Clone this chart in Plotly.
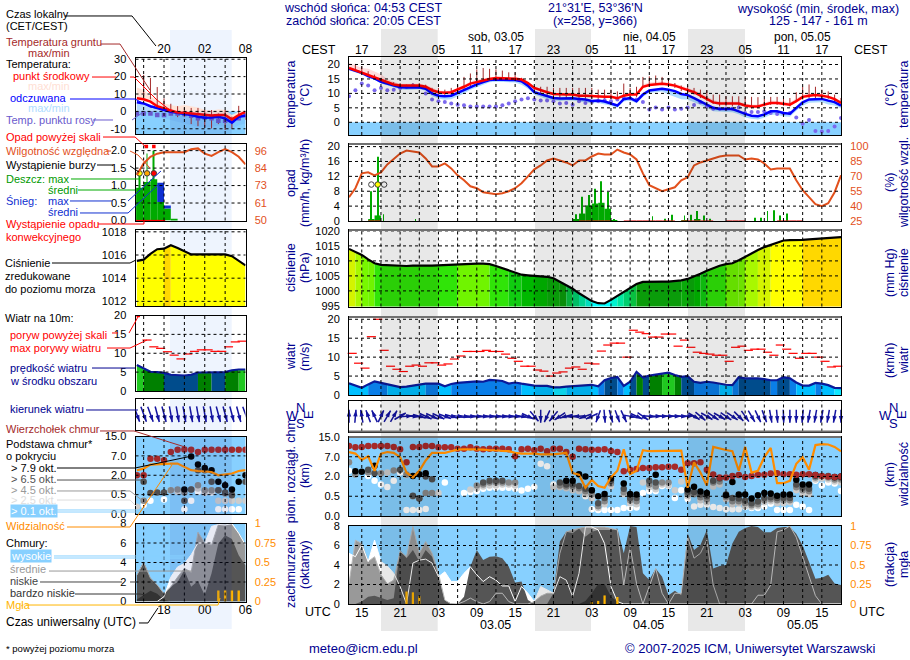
import math
import plotly.graph_objects as go

W, H = 910, 660

# === Time axes (hours since 00 UTC 02.05) ===
hours = list(range(13, 91))
hours_s = list(range(14, 31))

# === Temperature (C) ===
t_mid = [18.8,18,17.3,16.5,15.7,14.8,13.9,13.1,12.7,12.7,12.7,12.7,12.3,11.1,10.4,10.2,10.4,11.3,12.3,13.4,
         14,14.6,15,15.3,15.3,15.3,15.1,14.8,13.6,11.9,11.1,10.4,9.8,9.6,9.6,9.6,9.2,9.2,9,8.9,
         8.8,8.8,8.3,9.2,9.6,9.6,12.3,12.9,13,13.3,13.1,12.7,11.9,11.1,10.4,9.2,8,6.9,6.5,6.5,
         6.6,6.5,5.8,5.5,5.5,6,6.7,6.7,6.5,6.1,7.3,8.8,9.2,9.4,9.2,8.8,8,6.7]
t_max = [20.6,19.6,18.8,18.5,17.6,16.6,15,14,13.3,13.2,13.3,13.4,13,12,11,10.8,11,11.9,13,14,
         14.8,15.3,15.6,15.8,15.8,15.7,15.6,15.2,14.1,12.6,11.6,10.9,10.3,10,10,10,9.7,9.6,9.4,9.3,
         9.3,9.3,8.8,9.8,10.1,10.4,13.2,13.8,14,14.1,13.8,13.4,12.8,11.9,11.2,10.2,9,7.8,7.2,7.2,
         7.2,7.2,6.5,6.2,6.2,6.7,7.6,7.5,7.2,6.9,8.2,9.5,10,10,9.8,9.4,8.6,7.4]
t_feel = [18.6,17.9,17.1,16,15.2,14,13.4,12.7,12.1,12,12.1,12.1,11.6,10,9.2,9,9.2,10.2,11.1,12.3,
          13.1,13.9,14.6,14.8,14.8,14.8,14.6,14.2,12.7,10.4,9.8,9,8.4,8.2,8.3,8.3,8.1,7.9,7.4,7.5,
          7.2,6.5,5.8,8,8.4,7.3,9.6,11,11.3,11.6,11.3,10.8,9.8,9.4,8.4,7.3,6,5,4.6,4.6,
          4.6,3.8,2.9,2.3,2.1,2.7,3.8,3.8,3.2,3,5,6.9,7.9,8.1,8.1,7.5,7,5.8]
t_feel_min = [18,17.3,16.5,15.4,14.7,13.4,12.8,12.1,11.4,11.2,11.3,11.4,10.9,9,8.2,7.8,8,9,10,11.3,
              12.2,13,13.9,14,14,14,13.8,13,11.6,9.6,8.8,8,7.6,7.4,7.5,7.5,7.2,7,6.6,6.7,
              6.3,5.7,5,7.2,7.5,6.6,8.8,10.2,10.4,10.7,9.6,8.8,8,7.9,7,5.9,5,3.8,3.6,3.6,
              3.5,2.8,1.7,1.2,1,1.6,2.6,2.6,2,1.9,4,5.7,6.8,6.9,6.9,6.2,5.8,4.8]
t_dew = [9,11.1,13.4,12.7,11.1,11.9,11.1,11.3,11.9,12.3,12.7,12.3,10,7.9,7.3,7,6.5,6.1,5.9,5.5,
         5.5,5.5,5.5,5.5,5.9,6.5,7.3,7.9,8.3,7.9,7.5,7.5,7.3,6.5,6.7,6.1,7.3,6.7,7,7.3,
         7.6,7.3,7.9,8.4,8.2,7.9,7,4.4,5.1,4.4,5.1,4.4,4.7,5.1,6,6.9,5.5,4.7,4.7,4.7,
         4.7,5.1,3.2,3.6,3.6,3.8,3.2,2.9,3,3.2,1.7,-0.5,0.8,-3,-3.2,-3,-1.5,1.5]
ground_h = list(range(14, 91))
ground_max = [20.2,19.4,17.7,16.5,15.4,14.2,13.9,13.6,13,13.6,13.6,13,11.9,11.9,11.3,11.9,13,15.7,16.9,18.3,
              18.8,18.5,18.3,17.9,17.3,17.3,15.4,13.9,12.5,12.3,12.3,11.9,11.9,11.9,11.9,11.9,11.9,11.9,11.3,
              11.3,11.3,10.7,13.4,11.9,12.3,15.7,15.9,16.2,15.7,14.8,13.6,12.7,12.7,11.9,11.3,11.1,9.6,9.6,9,
              9,9,8.8,8.8,8.7,8.1,8.8,8.8,8.7,8.4,10.4,12.3,13.1,12.3,11.3,10.7,9.6,8.4]
ground_min = [18,16.5,15.7,14.8,14.2,13.4,12.7,11.6,11.9,11.9,11.9,11.3,9.6,9,8.8,9,10,11.3,12.3,13.6,
              14.2,14.8,14.8,14.8,14.8,14.8,13.9,12.7,10.2,9.6,9,9,8.4,8.4,8.4,7.9,8.1,8.2,8.1,
              7.9,7.9,7.9,9.2,8.9,8.8,11.9,12.3,12.9,12.9,12.6,11.9,10.8,10.2,9.6,8.4,7.3,6.4,5.5,5.5,
              5.5,5.5,5.1,4.8,4.8,5.5,6,6,5.7,5.5,7,7.9,8.4,8.4,8.4,8.1,7.3,6.2]

t_mid_s = [7.5,7,5.6,3,1.7,0.4,-0.6,-0.8,-1.2,-1.5,-2.1,-2.3,-2.1,-2.1,-4.6,-2.1,-0.2]
t_max_s = [13.8,12.3,8.5,6.5,4.6,3.7,3,3.7,3,2.3,0.8,0.4,1.2,0.8,-2.1,-0.2,0.8]
t_feel_s = [5.2,4.6,3,2.1,0.8,-0.2,-0.8,-1.2,-2.1,-3.1,-3.7,-3.5,-3.1,-4,-6.5,-3.1,-2.5]
t_feel_min_s = [-1,-1,-2,-3,-4,-5,-6,-7,-8,-9,-9,-9,-8,-9,-10,-8,-7]
t_dew_s = [-1.2,-1.2,-1.2,-2.1,-2.1,-1.2,-1.2,-1.5,-2.5,-4,-3.5,-4,-5.4,-5.4,-5.4,-4,-2.1]
ground_h_s = list(range(15, 31))
ground_max_s = [21,19.2,14,7.5,4.4,3,2,2,2,0.8,0.8,-1.2,0.8,-3,3.2,-1.2]
ground_min_s = [8.5,7,3,1,-2,-3.3,-3.3,-7.3,-8.5,-9.3,-9.8,-7.3,-10.7,-9.9,-4.9,-4.9]

# === Precipitation (mm/h) and humidity (%) ===
rain_h = [16.5,17.5,48.5,49.5,50.5,51.5,52.5,53.5,54.5,65.5,67.5]
rain = [0.4,1.5,0.4,2,4.2,4.7,4.9,3.3,0.2,0.2,0.5]
rain_max_h = [16.5,17.5,18.4,23.4,48.5,49.5,50.5,51.5,52.5,53.5,54.5,60.5,62.5,63.5,65.5,66.5,67.5,68.5,69.5,
              76.5,77.5,78.5,79.5,80.5,81.5]
rain_max = [8,17.3,1.8,0.4,1.8,6.5,7,8.7,10.7,7.8,0.4,1.3,0.6,1.7,1.5,1.7,2.7,1.5,0.6,0.9,0.9,2.7,2.9,1.5,2]
conv_h = [16.5,17.5,49.5,50.5,51.5,52.5,53.5,56.5,57.5,58.5,59.5,60.5,61.5,62.5,63.5,65.5,66.5,67.5,68.5,69.5,
          72.5,73.5,74.5,80.5,81.5,82.5,83.5]
storm_h = [16.5,17.5,18.5]
humidity = [49,58,73,74,71,74,82,88,93,96,95,94,88,80,80,83,78,71,66,60,
            58,54,53,52,53,55,58,63,70,77,81,86,88,86,84,81,86,86,90,93,
            92,92,97,94,92,87,73,61,58,55,57,59,66,69,81,84,86,88,90,91,
            91,91,87,88,87,83,77,78,78,78,66,56,49,42,40,43,54,71]

rain_s_h = [13.5,14.5,15.5,16.5,17.5,18.5,19.5]
rain_s = [0.94,0.94,1.1,1.18,0.53,0.34,0.05]
snow_s_h = [17.5,18.5]
snow_s = [0.55,0.09]
rain_max_s_h = [14.4,15.5,16.5]
rain_max_s = [1.35,1.92,2.0]
storm_s_h = [14.4,15.5,16.5]
above_s_h = [15.4,16.5]
conv_s_h = [14.5,15.5,16.5,17.5]
humidity_s = [80,87.6,92,94,95,95,95,95,97,97.5,94,92.5,95,97,95,92,87]

# === Pressure (hPa) ===
pressure = [1014,1013,1012,1010.5,1009.2,1008.7,1008.6,1008.4,1008.2,1008.3,1008.4,1008.5,1008.4,1008.4,1008.5,
            1008.6,1008.8,1009,1009.1,1009.1,1009.1,1009.1,1008.9,1008.3,1007.6,1006.9,1006,1005.4,1005.2,1005,
            1004.9,1004.7,1004.2,1003,1002,1000.7,999.2,997.8,996.6,995.9,995.8,997,998.3,999.7,1001.1,1002.3,
            1003,1003.1,1003.1,1003.1,1003.1,1003.2,1003.5,1004,1004.8,1005.7,1006.7,1007.6,1008.4,1008.9,1009.2,
            1010.2,1011.4,1012.6,1013.6,1014.6,1015.3,1016.2,1016.8,1016.9,1016.9,1017,1017.2,1017.3,1017.5,1017.6,
            1017.7,1017.9]
pressure_s = [1015.5,1015.6,1016.1,1016.5,1016.55,1016.85,1016.6,1016.3,1016.05,1016.05,1016.05,1016.05,1016.05,
              1016.05,1015.9,1015.5,1015.1]

# === Wind (m/s, direction the arrow points to in degrees) ===
wind = [3.1,2.5,1.9,2.8,3.6,3.2,2.9,2.6,2.1,2.2,2.4,2.8,3,3,3,2.3,2.9,3.2,3.3,3.6,3.6,3.5,4,3.9,3.7,3,3.3,3,2.7,2.5,
        2.4,2.4,2,2,2.2,2.3,2.3,2.4,2.7,2.3,3.9,4.5,4.8,2.4,3.5,6.1,4.6,5.1,5.3,5.6,5.9,5.3,4.8,5,3.5,3.2,3.5,3.3,
        2.9,2.7,2.6,4.7,4.4,4.4,4.4,4.2,3.9,3.9,4.7,4.4,3.3,2.5,2.5,3.2,3,2.6,1.9,1.8]
gust_h = [h + 0.5 for h in range(13, 90)]
gust = [11,8.4,7.1,15.4,20,11.8,7.6,6.8,6.2,7.6,7.9,7.6,8.5,8.5,7.9,8.2,9.5,10.3,11.5,11.5,11.5,11.8,11.5,11.5,
        10.8,9.7,8.9,7.6,7.6,6.6,6.3,5,5.8,6.1,7.1,7.4,6.8,8.4,8.2,
        11.6,13.2,13.7,13.7,10,17.1,16.6,16.2,15.3,15.3,16.1,16.1,12.9,14.5,12.6,11.3,11,10.8,10.5,10.5,8.9,12.6,
        12.9,11.8,12.1,12.1,11.3,10.5,13.2,12.1,11,9.7,11,11,10,8.9,7.4,7.6]
wind_dir = [0,5,350,340,335,25,30,30,60,85,95,105,115,115,115,110,105,100,100,95,95,95,95,95,95,95,95,100,115,140,
            180,205,220,235,255,265,265,250,245,200,175,165,160,155,100,115,125,95,90,90,90,90,90,85,120,130,120,125,
            120,125,125,135,145,150,155,160,170,175,178,180,180,185,190,190,190,190,190,180]
wind_s = [6.9,5.9,5.1,5,4.8,4.3,4.1,4.1,4.3,4.9,4.9,4.9,4.9,5,5.5,5.7,5.7]
gust_s_h = [15.5,16.5,17.5,18.5,19.5,20.5,21.5,22.5,23.5,24.5,25.5,26.5,27.5,28.5,29.5]
gust_s = [13.5,11.7,11.3,10.4,9.5,8.5,9.8,10.5,10.9,10.9,10.5,10.5,11.7,13,13.2]
gust_over_s_h = [14.2]
gust_over_s = [20]
wind_dir_s = [160,160,160,165,165,170,170,170,170,170,170,170,165,165,165,165,160]

# === Cloud tops/bases, position on the km scale: 0=0, 1=0.5, 2=2, 3=7, 4=15 km ===
km_ticks = ['0.0', '0.5', '2.0', '7.0', '15.0']
vis_ticks = ['0', '1', '5', '20', '100']
cloud_top = [3.55,3.48,3.5,3.55,3.55,3.55,3.55,3.5,3.38,2.72,3.5,3.5,3.55,3.55,3.48,3.48,3.48,3.41,3.41,3.48,
             3.41,3.38,3.41,3.41,3.41,3.38,3.03,3.38,3.41,3.33,3.41,3.28,3.41,3.41,3.24,3.0,3.41,3.38,3.36,3.36,
             3.38,3.29,3.24,2.26,2.34,2.38,2.43,2.43,2.47,2.47,2.5,2.5,2.34,2.67,2.67,2.72,2.34,2.1,1.95,1.95,
             2.03,2.07,1.97,2.03,2.09,2.09,2.15,2.17,2.12,2.12,2.09,2.12,2.12,2.07,2.03,2,1.98,2]
visibility = [3.24,3.16,2.84,3.02,2.29,3.16,3.24,3.2,2.98,2.2,1.95,2.29,2.81,3.2,3.2,3.2,3.28,3.36,3.38,3.38,
              3.36,3.36,3.33,3.33,3.29,3.28,3.2,3.16,3.16,3.16,3.12,3.12,3.12,3.16,3.2,2.17,2.09,1.43,1.83,1.52,
              1.43,1.95,2.29,3.38,2.12,2.29,3.33,3.28,3.28,3.31,3.31,3.31,3.31,1.43,2.72,2.2,1.55,3.5,3.41,3.34,
              3.28,2.29,3.5,2.2,2.29,2.98,3.45,1.66,1.66,1.78,2.64,2.98,2.34,3.59,3.64,3.62,3.5,3.28]
base79_h = [14,15,17,23,24,25,47,48,49,50,51,52,53,54,56,57,58,61,66,67,68,69,72,73,74,75,76,77,78,79,80,81,82,83,84,85,86,89,90]
base79 = [2.26,2.24,2.55,2.03,2.12,2.17,1.78,1.78,2.12,2.0,1.31,1.0,1.12,1.9,1.64,1.12,1.09,2.09,1.34,1.48,1.24,1.17,
          1.05,1.72,1.09,1.09,0.88,1.05,1.17,1.14,1.03,1.09,1.09,1.83,1.6,1.6,2.07,1.98,2.0]
base65_h = [16,17,21,23,24,25,26,34,35,36,37,46,47,48,49,50,51,52,53,54,56,57,58,60,61,66,67,68,69,70,71,72,73,74,75,
            76,77,78,79,80,81,82,83,84,85,86,88,89,90]
base65 = [2.34,2.16,2.34,1.03,0.88,2.0,1.86,1.69,1.78,1.78,1.78,1.69,1.6,1.6,1.52,1.38,1.29,0.65,0.91,1.78,1.38,0.91,
          0.91,1.78,1.69,1.21,1.21,1.09,1.0,1.78,1.9,1.09,0.91,0.88,0.79,0.65,0.74,0.91,0.95,0.91,0.91,0.91,1.6,1.43,
          1.38,2.03,2.03,1.95,1.95]
base45_h = [13,14,16,18,20,22,23,24,25,26,33,34,35,36,37,38,39,46,47,48,49,50,51,52,53,54,56,57,58,60,61,62,63,66,67,68,
            69,70,71,72,73,74,75,76,77,78,79,80,81,82,83,84,85,86,87,88,89,90]
base45 = [2.72,2.1,2.2,2.16,2.3,2.1,1.0,0.9,1.17,1.17,1.55,1.6,1.7,1.7,1.7,1.7,1.7,1.55,1.5,1.5,1.4,1.25,1.1,0.5,0.75,
          1.65,1.2,0.8,0.75,1.6,1.5,1.7,1.7,1.1,1.1,0.95,0.85,1.7,1.75,0.95,0.75,0.75,0.65,0.55,0.6,0.8,0.85,0.8,0.8,
          0.8,1.45,1.3,1.25,1.95,2.03,1.95,1.85,1.85]
base25_h = [18,19,22,27,32,33,34,35,36,37,38,39,45,46,47,48,49,50,51,52,53,54,56,57,58,59,60,61,62,63,64,65,66,68,69,70,
            71,72,73,74,75,76,77,78,79,80,81,82,83,84,85,86,87,88,89,90]
base25 = [2.16,2.2,2.07,1.17,1.34,1.4,1.5,1.55,1.55,1.6,1.6,1.55,1.45,1.45,1.4,1.3,1.25,1.1,0.9,0.4,0.6,1.5,1.1,0.65,
          0.6,1.7,1.45,1.35,1.6,1.55,1.3,1.75,1.0,0.8,0.7,1.5,1.6,0.85,0.6,0.65,0.5,0.45,0.5,0.7,0.75,0.65,0.65,0.7,
          1.3,1.15,1.1,1.85,1.9,1.85,1.75,1.7]
base01_h = [13,16,17,18,19,20,21,22,23,24,25,28,31,32,33,34,35,36,37,38,39,40,41,42,43,44,45,46,47,48,49,50,51,52,53,54,
            55,56,57,58,59,60,61,62,63,64,65,66,67,68,69,70,71,72,73,74,75,76,77,78,79,80,81,82,83,84,85,86,87,88,89,90]
base01 = [2.29,2.03,1.78,1.6,1.47,1.78,2.2,0.31,0.31,0.31,0.36,1.69,1.17,1.22,1.26,1.38,1.43,1.43,1.43,1.43,1.38,1.29,
          1.38,1.47,2.64,2.52,1.6,1.52,1.48,1.43,1.34,1.0,0.34,0.31,0.31,0.31,0.31,0.4,0.4,0.43,1.17,1.26,1.26,1.52,
          1.52,0.91,1.31,0.86,0.48,0.57,0.57,0.45,0.4,0.34,0.34,0.34,0.45,0.4,0.4,0.48,0.62,0.31,0.31,0.31,0.57,0.48,
          0.31,1.78,1.55,1.69,1.64,1.26]

cloud_top_s = [2.0,2.0,2.85,2.85,2.77,3.2,3.32,3.33,3.32,3.2,3.32,3.32,3.32,3.32,3.32,3.32,3.32]
visibility_s = [2.26,2.34,2.55,2.57,2.6,2.6,2.6,2.43,2.26,2.22,2.2,2.17,2.0,2.03,2.09,2.22,2.26]
base79_s_h = [21,22,23,24,25,26,27,28,29,30]
base79_s = [1.26,2.97,2.55,2.38,2.26,1.66,1.49,1.26,1.66,2.0]
base65_s_h = [15,16,17,18,21,22,23,24,25,26,27,28,30]
base65_s = [1.66,1.09,1.11,1.11,0.68,1.26,2.26,2.26,1.66,1.23,1.11,0.97,1.66]
base45_s_h = [15,19,20,21,22,23,24,25,26,27,28]
base45_s = [0.68,1.23,1.26,1.11,1.26,1.49,1.23,1.23,1.23,1.06,1.01]
base25_s_h = [14,19,20,23,24,25,26,27,28,29,30]
base25_s = [0.38,1.23,1.15,1.32,1.11,1.15,0.68,0.68,0.68,0.68,0.68]
base01_s_h = [15,16,18,21,22,23,24,25,26,27,28,29]
base01_s = [0.46,0.68,0.75,0.24,0.68,1.15,1.11,1.11,0.24,0.24,0.24,0.24]

# === Cloud cover (oktas), fog (fraction) ===
cl_high = [5.2,4.85,6.05,4.35,6.55,4.35,3.9,3.15,1.8,0,4.2,4.5,4.6,4.2,2.8,3.3,2.3,2.3,3.15,3.8,3,2.3,2.8,2.45,1.85,1.85,
           0.25,1.8,1.1,0.25,1.8,1.45,1.1,2.8,2.45,0.75,3.15,7.9,7.9,7.6,6.2,1.8,0.25,
           0,0,0,0,0,0,0,0,0,0,0,0,0,0,0,0,0,0,0,0,0,0,0,0,0,0,0,0,0,0,0,0,0,0,0]
cl_mid = [2.1,6.55,6.2,4.35,4.85,3,2.05,2.45,5.4,4.85,7.95,5.2,6.4,5.2,3.15,0.4,0,0,0.25,0.6,0.25,0,0.25,1.1,1.1,0.25,0,0,0,
          0.25,0.8,1.1,1.1,5.2,7.4,7.6,7.75,7.9,7.9,7.9,7.9,7.75,7.6,1.95,5.9,2.1,0,1.8,3.65,1.1,0,1.1,1.1,6.85,4.7,5.2,6.55,
          1.95,0,0,0,0,0,0,0.9,0.9,1.95,7.4,7.6,8,6.85,4.85,2.8,0.85,0,0,0,0]
cl_low = [0,0,0.25,0.75,0.85,0.6,0.4,0.6,5.55,4.7,5.55,4.35,5.55,4.85,2.8,0.35,0.05,0,0.75,3.85,5.55,4.5,4.85,4.9,4.7,3.85,
          2.2,2.3,0.4,0,0,0,1.1,6.4,7.4,7.25,7.75,6.9,7.4,7.6,7.6,7.6,7.75,5.2,8,7.9,3.15,2.45,3.65,2.8,0.9,1.35,0.9,7.25,
          5.55,6.05,7.6,3.65,3.9,4,6.2,7.4,7.8,8,7.9,7.35,7.35,7.8,7.9,7.9,7.2,6,4.3,2.6,2.7,3,2.1,1.95]
cl_vlow_h = [49,50,51,52,53,54,55,56]
cl_vlow = [0,0.3,1.1,2.05,2.05,0.75,0.25,0]
fog_h = [22,23,24,51,52,53,55]
fog = [0.16,0.15,0.1,0.02,0.04,0.11,0.09]

cl_high_s = [0,0,0,0,0.5,2.5,3.55,3.9,4.8,6,6,7.7,7.9,7.85,8,7,5.8]
cl_mid_s = [2.7,4,2.4,1.7,0.8,1.5,2.5,3.4,3,7.1,6,5.8,7.9,7.85,7.9,7,5.8]
cl_low_s = [2.7,4.1,2.4,1.7,0.8,1.5,2,3.2,1.5,2.1,0.65,2.9,5.95,6.8,6.4,4.75,3.7]
cl_vlow_s = [0.2,0.65,1.1,0.8,0.15,0,0,0,0,0,0,0,0,0,0,0,0]
fog_s_h = [26,27,28,29]
fog_s = [0.14,0.14,0.14,0.14]

# === Layout in pixels ===
SKY = '#87d0ff'
NAVY = '#000090'
DARKRED = '#a52a2a'
HUM = '#e2501c'
ORANGE = '#ff8c00'
FOG = '#ffb400'
FONT = 'Liberation Sans'
TICK = 11

SMALL_X, MAIN_X = (135.5, 245.5), (349, 841)
SMALL_R, MAIN_R = (13.8, 30), (13, 90)
SMALL_PPH, MAIN_PPH = 110 / 16.2, 492 / 77
SMALL_ROWS = [(57.5, 134), (144, 220.5), (229.5, 306), (315.5, 391), (398.5, 430), (436.5, 514), (523.5, 601.5)]
MAIN_ROWS = [(57, 135), (144, 221), (230, 306.5), (317, 395), (401, 431.5), (437, 516), (526, 604)]

fig = go.Figure()
shapes, notes = [], []


def fx(x):
    return x / W


def fy(y):
    return 1 - y / H


def text(x, y, s, color='black', size=11, anchor='left', angle=0, bg=None):
    notes.append(dict(x=fx(x - 1 if anchor == 'left' else x), y=fy(y), xref='paper', yref='paper', text=s, showarrow=False,
                      xanchor=anchor, yanchor='middle', textangle=angle, bgcolor=bg, borderpad=0,
                      font=dict(family=FONT, size=size, color=color)))


def leader(points, color, width=1):
    path = 'M' + ' L'.join(f'{fx(a):.4f},{fy(b):.4f}' for a, b in points)
    shapes.append(dict(type='path', path=path, xref='paper', yref='paper', layer='above',
                       line=dict(color=color, width=width)))


def axes(k, box, row, xrange, left, right, right_color='black', xtop=None, xbottom=None, standoff=0):
    """left/right are (range, tickvals, ticktext)"""
    yl, yr = 2 * k - 1, 2 * k
    xa = dict(domain=[fx(box[0]), fx(box[1])], range=list(xrange), anchor=f'y{yl}', showgrid=False, zeroline=False,
              showline=True, linecolor='black', linewidth=1, mirror=True, ticks='', showticklabels=False,
              tickfont=dict(family=FONT, size=12, color='black'))
    for labels, side in ((xtop, 'top'), (xbottom, 'bottom')):
        if labels:
            xa.update(side=side, showticklabels=True, tickvals=labels[0], ticktext=labels[1], ticks='outside',
                      ticklen=2, tickcolor='rgba(0,0,0,0)', ticklabelstandoff=standoff)
    dom = [fy(row[1]), fy(row[0])]
    base = dict(domain=dom, zeroline=False, showgrid=False, ticks='outside', ticklen=6, tickcolor='rgba(0,0,0,0)')
    ya = dict(base, range=list(left[0]), anchor=f'x{k}', tickvals=left[1], ticktext=left[2], showline=True,
              linecolor='black', linewidth=1, mirror=True, tickfont=dict(family=FONT, size=TICK, color='black'),
              showticklabels=bool(left[1]))
    yb = dict(base, range=list(right[0]), anchor=f'x{k}', overlaying=f'y{yl}', side='right', tickvals=right[1],
              ticktext=right[2], tickfont=dict(family=FONT, size=TICK, color=right_color), showticklabels=bool(right[1]))
    suffix = '' if k == 1 else str(k)
    fig.layout[f'xaxis{suffix}'] = xa
    fig.layout['yaxis' if yl == 1 else f'yaxis{yl}'] = ya
    fig.layout[f'yaxis{yr}'] = yb


def grid(k, xs, ys):
    yl = 2 * k - 1
    xn = 'x' if k == 1 else f'x{k}'
    yn = 'y' if yl == 1 else f'y{yl}'
    dash = dict(color='black', width=1, dash='3px,3px')
    for v in xs:
        shapes.append(dict(type='line', xref=xn, yref=f'{yn} domain', x0=v, x1=v, y0=0, y1=1, layer='above', line=dash))
    for v in ys:
        shapes.append(dict(type='line', xref=f'{xn} domain', yref=yn, x0=0, x1=1, y0=v, y1=v, layer='above', line=dash))


def panel_rect(k, color, layer='below', y0=None, y1=None):
    yl = 2 * k - 1
    xn = 'x' if k == 1 else f'x{k}'
    yn = 'y' if yl == 1 else f'y{yl}'
    if y0 is None:
        shapes.append(dict(type='rect', xref=f'{xn} domain', yref=f'{yn} domain', x0=0, x1=1, y0=0, y1=1, layer=layer,
                           fillcolor=color, line_width=0))
    else:
        shapes.append(dict(type='rect', xref=f'{xn} domain', yref=yn, x0=0, x1=1, y0=y0, y1=y1, layer=layer,
                           fillcolor=color, line_width=0))


def on(k, right=False):
    yl = 2 * k - 1 + (1 if right else 0)
    return dict(xaxis='x' if k == 1 else f'x{k}', yaxis='y' if yl == 1 else f'y{yl}', hoverinfo='skip', showlegend=False)


def line(k, x, y, color, width=2, right=False):
    fig.add_trace(go.Scatter(x=x, y=y, mode='lines', line=dict(color=color, width=width), **on(k, right)))


def band(k, x, upper, lower, color):
    fig.add_trace(go.Scatter(x=x, y=upper, mode='lines', line=dict(width=0), **on(k)))
    fig.add_trace(go.Scatter(x=x, y=lower, mode='lines', line=dict(width=0), fill='tonexty', fillcolor=color, **on(k)))


def dots(k, x, y, color, size=6.5, symbol='circle', right=False):
    fig.add_trace(go.Scatter(x=x, y=y, mode='markers', marker=dict(color=color, size=size, symbol=symbol, line_width=0),
                             **on(k, right)))


def dashes(k, x, y, color='#ff0000', size=6.5):
    fig.add_trace(go.Scatter(x=x, y=y, mode='markers', cliponaxis=False,
                             marker=dict(symbol='line-ew', size=size, line=dict(color=color, width=1.2)), **on(k)))


def bars(k, x, y, color, width, base=None, right=False):
    fig.add_trace(go.Bar(x=x, y=y, width=width, base=base, marker=dict(color=color, line_width=0), **on(k, right)))


def vbars(k, x, top, bottom, color, width=1):
    xs, ys = [], []
    for a, b, c in zip(x, top, bottom):
        xs += [a, a, None]
        ys += [b, c, None]
    line(k, xs, ys, color, width)


def class_fill(k, x, y, color_of):
    # consecutive hours of one colour class become one filled area
    i = 0
    while i < len(x) - 1:
        c = color_of(i)
        j = i + 1
        while j < len(x) - 1 and color_of(j) == c:
            j += 1
        fig.add_trace(go.Scatter(x=x[i:j + 1], y=y[i:j + 1], mode='lines', line=dict(width=0), fill='tozeroy',
                                 fillcolor=c, **on(k)))
        i = j


def pressure_color(p):
    steps = [(997, '#00ffff'), (998, '#00f4d0'), (999.5, '#00e8a0'), (1001, '#00d070'), (1002.5, '#08c040'),
             (1003.6, '#0a9c0a'), (1004.5, '#0aaa0a'), (1005.5, '#00b800'), (1007, '#10cc10'), (1009, '#30e408'),
             (1010, '#70f400'), (1012, '#78f800'), (1013.5, '#a8f800'), (1015, '#d4f400'), (1017.1, '#ffff00')]
    for limit, c in steps:
        if p < limit:
            return c
    return '#ffd800'


def wind_color(v):
    steps = [(2.15, '#10e8ff'), (3, '#00bfff'), (4, '#0a7ee8'), (5, '#004c8c'), (5.5, '#008000')]
    for limit, c in steps:
        if v < limit:
            return c
    return '#20c820'


def arrows(k, x, directions, length, pph):
    xs, ys, hx, hy = [], [], [], []
    for h, d in zip(x, directions):
        th = math.radians(d)
        dx, dy = length / 2 * math.sin(th) / pph, length / 2 * math.cos(th)
        xs += [h - dx, h + dx, None]
        ys += [-dy, dy, None]
        hx.append(h + dx)
        hy.append(dy)
    line(k, xs, ys, '#1414a0', 1.5)
    fig.add_trace(go.Scatter(x=hx, y=hy, mode='markers', cliponaxis=False,
                             marker=dict(symbol='arrow', size=7, angle=list(directions), color='#1414a0', line_width=0),
                             **on(k)))


# === Axes ===
def rng(lo, hi):
    return (lo, hi)


t_ticks = [20, 15, 10, 5, 0]
press_ticks = [1020, 1015, 1010, 1005, 1000, 995]
okta_ticks = [0, 2, 4, 6, 8]
level_ticks = [0, 1, 2, 3, 4]

small_top = ([18, 24, 30], ['20', '02', '08'])
small_bot = ([18, 24, 30], ['18', '00', '06'])
axes(1, SMALL_X, SMALL_ROWS[0], SMALL_R, (rng(-13, 31), [30, 20, 10, 0, -10], ['30', '20', '10', '0', '-10']),
     (rng(-13, 31), [30, 20, 10, 0, -10], ['30', '20', '10', '0', '-10']), xtop=small_top, standoff=-3)
axes(2, SMALL_X, SMALL_ROWS[1], SMALL_R, (rng(0, 2.19), [2, 1.5, 1, 0.5, 0], ['2.0', '1.5', '1.0', '0.5', '0.0']),
     (rng(50, 100.4), [96, 84.5, 73, 61.5, 50], ['96', '84', '73', '61', '50']), HUM)
axes(3, SMALL_X, SMALL_ROWS[2], SMALL_R, (rng(1011.6, 1018.2), [1018, 1016, 1014, 1012], ['1018', '1016', '1014', '1012']),
     (rng(1011.6, 1018.2), [1018, 1016, 1014, 1012], ['1018', '1016', '1014', '1012']))
axes(4, SMALL_X, SMALL_ROWS[3], SMALL_R, (rng(0, 20), [20, 15, 10, 5, 0], ['20', '15', '10', '5', '0']),
     (rng(0, 72), [72, 54, 36, 18, 0], ['72', '54', '36', '18', '0']))
axes(5, SMALL_X, SMALL_ROWS[4], SMALL_R, (rng(-15.75, 15.75), [], []), (rng(-15.75, 15.75), [], []))
axes(6, SMALL_X, SMALL_ROWS[5], SMALL_R, (rng(0, 4), level_ticks, km_ticks), (rng(0, 4), level_ticks, vis_ticks), ORANGE)
axes(7, SMALL_X, SMALL_ROWS[6], SMALL_R, (rng(0, 8), okta_ticks, ['0', '2', '4', '6', '8']),
     (rng(0, 1), [0, 0.25, 0.5, 0.75, 1], ['0', '0.25', '0.5', '0.75', '1']), ORANGE, xbottom=small_bot, standoff=-5)

main_grid = list(range(15, 90, 3))
top_v = list(range(15, 90, 6))
top_t = ['17', '23', '05', '11'] * 3 + ['17']
bot_t = ['15', '21', '03', '09'] * 3 + ['15']
axes(8, MAIN_X, MAIN_ROWS[0], MAIN_R, (rng(-4.4, 22.6), t_ticks, [str(v) for v in t_ticks]),
     (rng(-4.4, 22.6), t_ticks, [str(v) for v in t_ticks]), xtop=(top_v, top_t), standoff=-5)
axes(9, MAIN_X, MAIN_ROWS[1], MAIN_R, (rng(0, 20.7), [20, 16, 12, 8, 4, 0], ['20', '16', '12', '8', '4', '0']),
     (rng(25, 102.6), [100, 85, 70, 55, 40, 25], ['100', '85', '70', '55', '40', '25']), HUM)
axes(10, MAIN_X, MAIN_ROWS[2], MAIN_R, (rng(994.8, 1020.3), press_ticks, [str(v) for v in press_ticks]),
     (rng(994.8, 1020.3), press_ticks, ['765', '761', '758', '754', '750', '746']))
axes(11, MAIN_X, MAIN_ROWS[3], MAIN_R, (rng(0, 20.6), [20, 15, 10, 5, 0], ['20', '15', '10', '5', '0']),
     (rng(0, 74.2), [72, 54, 36, 18, 0], ['72', '54', '36', '18', '0']))
axes(12, MAIN_X, MAIN_ROWS[4], MAIN_R, (rng(-15.25, 15.25), [], []), (rng(-15.25, 15.25), [], []))
axes(13, MAIN_X, MAIN_ROWS[5], MAIN_R, (rng(0, 4), level_ticks, km_ticks), (rng(0, 4), level_ticks, vis_ticks), ORANGE)
axes(14, MAIN_X, MAIN_ROWS[6], MAIN_R, (rng(0, 8), okta_ticks, ['0', '2', '4', '6', '8']),
     (rng(0, 1), [0, 0.25, 0.5, 0.75, 1], ['0', '0.25', '0.5', '0.75', '1']), ORANGE, xbottom=(top_v, bot_t), standoff=-4)

# === Backgrounds: day column on the left block, below-zero and cloud panels in sky blue ===
shapes.append(dict(type='rect', xref='paper', yref='paper', x0=fx(170), x1=fx(231.7), y0=fy(629), y1=fy(30),
                   layer='below', fillcolor='#eef4fe', line_width=0))
panel_rect(1, SKY, y0=-13, y1=0)
panel_rect(6, SKY)
panel_rect(7, SKY)
panel_rect(8, SKY, y0=-4.4, y1=0)
panel_rect(13, SKY)
panel_rect(14, SKY)

# === Left block ===
band(1, hours_s, t_max_s, t_mid_s, '#ffe4d8')
band(1, hours_s, t_feel_s, t_feel_min_s, 'rgba(120,190,250,0.55)')
vbars(1, ground_h_s, ground_max_s, ground_min_s, DARKRED, 1)
dots(1, hours_s, t_dew_s, '#6a5acd', 4.5, 'square')
line(1, hours_s, t_feel_s, '#0000ff', 2.5)
line(1, hours_s, t_mid_s, '#ff0000', 2.5)

bars(2, rain_s_h, rain_s, '#00aa00', 1)
bars(2, snow_s_h, snow_s, '#1030d0', 1, base=[rain_s[4], rain_s[5]])
bars(2, rain_max_s_h, rain_max_s, '#00aa00', 0.12)
dashes(2, conv_s_h, [0] * len(conv_s_h))
line(2, hours_s, humidity_s, HUM, 2, right=True)
fig.add_trace(go.Scatter(x=storm_s_h, y=[1.35] * 3, mode='markers',
                         marker=dict(size=5.5, color=['#ffff00', '#ffa500', '#ff0000'], line=dict(color='#404040', width=1)),
                         **on(2)))
dots(2, above_s_h, [2.12, 2.12], '#ff0000', 3.5, 'square')

class_fill(3, hours_s, pressure_s, lambda i: '#ffd800' if i == 4 else '#ffff00')
line(3, hours_s, pressure_s, 'black', 2.2)

class_fill(4, hours_s, wind_s, lambda i: '#20c820' if i in (0, 15) else '#008000' if i in (1, 2, 3, 9, 10, 13, 14) else '#004c8c')
line(4, hours_s, wind_s, '#0a1a9a', 2.2)
dashes(4, gust_s_h, gust_s)
dots(4, gust_over_s_h, gust_over_s, '#ff0000', 3.5, 'square')

arrows(5, hours_s, wind_dir_s, 16, SMALL_PPH)

for hx, vals, col in ((base01_s_h, base01_s, 'white'), (base25_s_h, base25_s, '#cccccc'), (base45_s_h, base45_s, '#888888'),
                      (base65_s_h, base65_s, '#505050'), (base79_s_h, base79_s, 'black'), (hours_s, cloud_top_s, '#a52a2a')):
    dots(6, hx, vals, col, 6.5)
line(6, hours_s, visibility_s, ORANGE, 2.2)

for vals, col in ((cl_high_s, 'white'), (cl_mid_s, '#999999'), (cl_low_s, '#555555'), (cl_vlow_s, '#333333')):
    fig.add_trace(go.Scatter(x=hours_s, y=vals, mode='lines', line=dict(width=0), fill='tozeroy', fillcolor=col, **on(7)))
line(7, hours_s, cl_mid_s, '#b0b0b0', 1)
line(7, hours_s, cl_high_s, 'white', 1)
bars(7, fog_s_h, fog_s, FOG, 0.35, right=True)

# === Main block ===
band(8, hours, t_max, t_mid, '#ffdcdc')
band(8, hours, t_feel, t_feel_min, '#aedcff')
vbars(8, ground_h, ground_max, ground_min, DARKRED, 1)
dots(8, hours, t_dew, '#7b68ee', 4)
line(8, hours, t_feel, '#0000ff', 2.5)
line(8, hours, t_mid, '#ff0000', 2.5)

bars(9, rain_h, rain, '#00aa00', 1)
bars(9, rain_max_h, rain_max, '#00aa00', 0.14)
dashes(9, conv_h, [0] * len(conv_h), '#e02020', 4.5)
line(9, hours, humidity, HUM, 2, right=True)
fig.add_trace(go.Scatter(x=storm_h, y=[9.8] * 3, mode='markers',
                         marker=dict(size=5.5, color=['white', '#ffff00', 'white'], line=dict(color='#404040', width=1)),
                         **on(9)))

class_fill(10, hours, pressure, lambda i: pressure_color((pressure[i] + pressure[i + 1]) / 2))
line(10, hours, pressure, 'black', 2.2)

class_fill(11, hours, wind, lambda i: wind_color((wind[i] + wind[i + 1]) / 2))
line(11, hours, wind, '#0a1a9a', 2.2)
dashes(11, gust_h, gust)

arrows(12, hours, wind_dir, 13, MAIN_PPH)

for hx, vals, col in ((base01_h, base01, 'white'), (base25_h, base25, '#cccccc'), (base45_h, base45, '#888888'),
                      (base65_h, base65, '#505050'), (base79_h, base79, 'black'), (hours, cloud_top, '#a52a2a')):
    dots(13, hx, vals, col, 6.5)
line(13, hours, visibility, ORANGE, 2.2)

for hx, vals, col in ((hours, cl_high, 'white'), (hours, cl_mid, '#999999'), (hours, cl_low, '#555555'),
                      (cl_vlow_h, cl_vlow, '#333333')):
    fig.add_trace(go.Scatter(x=hx, y=vals, mode='lines', line=dict(width=0), fill='tozeroy', fillcolor=col, **on(14)))
line(14, hours, cl_mid, '#b8b8b8', 1)
line(14, hours, cl_high, 'white', 1)
bars(14, fog_h, fog, FOG, 0.35, right=True)

# === Grids on top of the data, shading over everything ===
small_grid = [15, 18, 21, 24, 27]
grid(1, small_grid, [30, 20, 10, 0, -10])
grid(2, small_grid, [2, 1.5, 1, 0.5])
grid(3, small_grid, [1018, 1016, 1014, 1012])
grid(4, small_grid, [15, 10, 5])
grid(5, small_grid, [])
grid(6, small_grid, [3, 2, 1])
grid(7, small_grid, [6, 4, 2])
grid(8, main_grid, [20, 15, 10, 5, 0])
grid(9, main_grid, [20, 16, 12, 8, 4])
grid(10, main_grid, [1020, 1015, 1010, 1005, 1000])
grid(11, main_grid, [20, 15, 10, 5])
grid(12, main_grid, [])
grid(13, main_grid, [3, 2, 1])
grid(14, main_grid, [6, 4, 2])

for k in (1, 6, 7):
    y0, y1 = SMALL_ROWS[k - 1]
    if k == 1:
        y0 = 111.5
    shapes.append(dict(type='rect', xref='paper', yref='paper', x0=fx(170), x1=fx(231.7), y0=fy(y1), y1=fy(y0),
                       layer='above', fillcolor='rgba(30,50,150,0.10)', line_width=0))
for a, b in ((381, 437.7), (535, 591), (688, 745)):
    shapes.append(dict(type='rect', xref='paper', yref='paper', x0=fx(a), x1=fx(b), y0=fy(631), y1=fy(29),
                       layer='above', fillcolor='rgba(0,0,0,0.09)', line_width=0))
# heavier grey top edge on the main panels
for y in (144, 230, 317, 431.5, 437):
    leader([(349, y), (841, y)], '#707070', 2)

# === Leader lines of the legend block ===
leader([(65, 16), (132, 16), (156, 46)], 'black')
leader([(101, 44), (120, 44), (150, 90)], DARKRED)
leader([(92, 77), (116, 77)], '#ff0000')
leader([(130, 77), (134, 77), (157, 100), (170, 110)], '#ff0000')
leader([(70, 99), (135, 99), (150, 107), (167, 110)], '#0000ff')
leader([(93, 120), (113, 120)], '#6a5acd')
leader([(132, 120), (142, 113)], '#6a5acd')
leader([(103, 137), (135, 137), (146, 147)], '#ff0000')
leader([(106, 151), (111, 151)], HUM)
leader([(130, 151), (138, 155), (150, 168)], HUM)
leader([(97, 165), (113, 165)], 'black')
leader([(130, 166), (139, 172)], 'black')
leader([(71, 179), (140, 179)], '#00aa00')
leader([(78, 190), (135, 190)], '#00aa00')
leader([(70, 201), (112, 201)], '#1030d0')
leader([(128, 201), (161, 171)], '#1030d0')
leader([(80, 213), (128, 213), (160, 183)], '#1030d0')
leader([(98, 224), (144, 224), (144, 220)], '#ff0000')
leader([(52, 263), (130, 263), (136, 260)], 'black')
leader([(112, 333), (118, 333)], '#ff0000')
leader([(129, 333), (138, 317)], '#ff0000')
leader([(107, 348), (130, 348), (147, 340)], '#ff0000')
leader([(92, 368), (135, 368)], NAVY)
leader([(86, 410), (138, 410)], NAVY)
leader([(100, 431), (134, 431), (185, 447)], DARKRED)
leader([(57, 468), (135, 468), (192, 456)], 'black')
leader([(57, 480), (143, 480)], '#505050')
leader([(57, 491), (130, 491), (143, 501)], '#999999')
leader([(57, 500), (130, 500), (137, 507)], '#dddddd')
leader([(57, 510), (143, 510)], SKY)
leader([(57, 512), (143, 512)], SKY)
leader([(67, 527), (130, 527), (172, 465)], ORANGE)
leader([(54, 556), (185, 556)], SKY)
leader([(54, 558), (185, 558)], SKY)
leader([(49, 571), (192, 571)], '#999999')
leader([(40, 582), (122, 582)], '#444444')
leader([(130, 582), (136, 582)], '#444444')
leader([(75, 594), (140, 594), (157, 597)], '#333333')
leader([(26, 605), (218, 605), (220, 598)], FOG)
leader([(139, 623), (148, 623), (158, 608)], 'black')

# === Legend block text ===
text(6, 14, 'Czas lokalny')
text(6, 26, '(CET/CEST)')
text(6, 42, 'Temperatura gruntu', DARKRED)
text(28, 52.5, 'max/min', DARKRED)
text(6, 64, 'Temperatura:')
text(13, 76, 'punkt środkowy', '#ff0000')
text(28, 86, 'max/min', '#ffe0d4')
text(10, 98, 'odczuwana', '#0000ff')
text(28, 108, 'max/min', '#aedcff')
text(6, 120, 'Temp. punktu rosy', '#6a5acd')
text(6, 137, 'Opad powyżej skali', '#ff0000')
text(6, 151, 'Wilgotność względna', HUM)
text(6, 165, 'Wystąpienie burzy')
text(6, 179, 'Deszcz: max', '#009900')
text(48, 190.5, 'średni', '#009900')
text(6, 201, 'Śnieg:', '#1030d0')
text(48, 201, 'max', '#1030d0')
text(48, 212, 'średni', '#1030d0')
text(6, 224, 'Wystąpienie opadu', '#ff0000')
text(6, 237, 'konwekcyjnego', '#ff0000')
text(5, 263, 'Ciśnienie')
text(5, 276, 'zredukowane')
text(5, 289, 'do poziomu morza')
text(5, 318, 'Wiatr na 10m:')
text(10, 335, 'poryw powyżej skali', '#ff0000')
text(10, 348, 'max porywy wiatru', '#ff0000')
text(10, 368, 'prędkość wiatru', NAVY)
text(10, 381, 'w środku obszaru', NAVY)
text(10, 409, 'kierunek wiatru', NAVY)
text(6, 429, 'Wierzchołek chmur', DARKRED)
text(6, 444, 'Podstawa chmur*')
text(6, 456, 'o pokryciu')
text(11, 468, '> 7.9 okt.')
text(11, 479, '> 6.5 okt.', '#505050')
text(11, 490, '> 4.5 okt.', '#999999')
text(11, 500, '> 2.5 okt.', '#dddddd')
text(11, 511, '> 0.1 okt.', 'white', bg=SKY)
text(6, 526, 'Widzialność', ORANGE)
text(6, 543, 'Chmury:')
text(11, 556, 'wysokie', 'white', bg=SKY)
text(10, 569, 'średnie', '#999999')
text(10, 581, 'niskie', '#444444')
text(10, 593, 'bardzo niskie', '#333333')
text(6, 605, 'Mgła', FOG)
text(6, 622, 'Czas uniwersalny (UTC)', size=12)
text(6, 648, '* powyżej poziomu morza', size=9.5)

# === Header and footer ===
text(363, 8, 'wschód słońca: 04:53 CEST', NAVY, 12.5, anchor='center')
text(363, 21, 'zachód słońca: 20:05 CEST', NAVY, 12.5, anchor='center')
text(595, 8, "21°31'E, 53°36'N", NAVY, 12.5, anchor='center')
text(595, 21, '(x=258, y=366)', NAVY, 12.5, anchor='center')
text(818, 9, 'wysokość (min, środek, max)', NAVY, 12.5, anchor='center')
text(818, 21, '125 - 147 - 161 m', NAVY, 12.5, anchor='center')
for x, s in ((496, 'sob, 03.05'), (649, 'nie, 04.05'), (802, 'pon, 05.05')):
    text(x, 37, s, size=12, anchor='center')
text(319, 50, 'CEST', size=12.5, anchor='center')
text(871, 50, 'CEST', size=12.5, anchor='center')
text(318, 612, 'UTC', size=12.5, anchor='center')
text(872, 612, 'UTC', size=12.5, anchor='center')
for x, s in ((496, '03.05'), (648, '04.05'), (802, '05.05')):
    text(x, 625, s, size=12.5, anchor='center')
text(363, 648, 'meteo@icm.edu.pl', NAVY, 13, anchor='center')
text(750, 648, '© 2007-2025 ICM, Uniwersytet Warszawski', NAVY, 13, anchor='center')

# === Vertical axis titles ===
for y, a, b in ((95, 'temperatura', '(°C)'), (183, 'opad', '(mm/h, kg/m³/h)'), (268, 'ciśnienie', '(hPa)'), (357, 'wiatr', '(m/s)')):
    text(291, y, a, NAVY, 12.5, anchor='center', angle=-90)
    text(305, y, b, NAVY, 12.5, anchor='center', angle=-90)
text(291, 512, 'zachmurzenie  pion. rozciągł. chm.', NAVY, 12.5, anchor='center', angle=-90)
text(305, 476, '(km)', NAVY, 12.5, anchor='center', angle=-90)
text(305, 565, '(oktanty)', NAVY, 12.5, anchor='center', angle=-90)
for y, a, b in ((95, '(°C)', 'temperatura'), (183, '(%)', 'wilgotność wzgl.'), (273, '(mm Hg)', 'ciśnienie'), (361, '(km/h)', 'wiatr'),
                (475, '(km)', 'widzialność'), (565, '(frakcja)', 'mgła')):
    text(890, y, a, NAVY, 12.5, anchor='center', angle=-90)
    text(904, y, b, NAVY, 12.5, anchor='center', angle=-90)
for x0 in (292, 885):
    text(x0, 415, 'W', NAVY, 13, 'center')
    text(x0 + 8, 407, 'N', NAVY, 13, 'center')
    text(x0 + 8, 423, 'S', NAVY, 13, 'center')
    text(x0 + 16, 415, 'E', NAVY, 13, 'center', -90)

fig.update_layout(width=W, height=H, margin=dict(l=0, r=0, t=0, b=0, autoexpand=False), paper_bgcolor='white',
                  plot_bgcolor='rgba(0,0,0,0)', barmode='overlay', showlegend=False, shapes=shapes, annotations=notes,
                  font=dict(family=FONT, size=12))

fig.write_html("out.html", config={'displayModeBar': False}, post_script="document.body.style.margin='0';")
